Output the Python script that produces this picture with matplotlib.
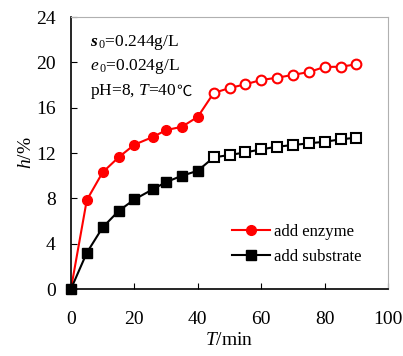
import matplotlib
matplotlib.use("Agg")
import matplotlib.pyplot as plt
from matplotlib.lines import Line2D

plt.rcParams['font.family'] = ['Liberation Serif', 'Noto Sans CJK SC']
plt.rcParams['mathtext.fontset'] = 'custom'
plt.rcParams['mathtext.rm'] = 'Liberation Serif'
plt.rcParams['mathtext.it'] = 'Liberation Serif:italic'
plt.rcParams['mathtext.bf'] = 'Liberation Serif:bold'
plt.rcParams['mathtext.bfit'] = 'Liberation Serif:italic:bold'

# time points (min)
t = [0, 5, 10, 15, 20, 26, 30, 35, 40, 45, 50, 55, 60, 65, 70, 75, 80, 85, 90]
# conversion h (%)
enzyme = [0, 7.85, 10.3, 11.62, 12.74, 13.44, 14.03, 14.32, 15.2,
          17.3, 17.74, 18.07, 18.45, 18.65, 18.9, 19.15, 19.6, 19.62, 19.83]
substrate = [0, 3.2, 5.44, 6.88, 7.91, 8.83, 9.44, 10.0, 10.44,
             11.62, 11.83, 12.06, 12.33, 12.56, 12.71, 12.86, 13.0, 13.21, 13.36]
n_fill = 9  # first 9 points filled, rest open

fig = plt.figure(figsize=(4.03, 3.56), dpi=100)
ax = fig.add_axes([0.176, 0.188, 0.787, 0.764])

ax.plot(t, enzyme, color='red', lw=1.5, zorder=2)
ax.plot(t[:n_fill], enzyme[:n_fill], 'o', color='red', ms=7, zorder=3, clip_on=False)
ax.plot(t[n_fill:], enzyme[n_fill:], 'o', mfc='white', mec='red', mew=1.5, ms=7, zorder=3)

ax.plot(t, substrate, color='black', lw=1.5, zorder=2)
ax.plot(t[:n_fill], substrate[:n_fill], 's', color='black', ms=7, zorder=3, clip_on=False)
ax.plot(t[n_fill:], substrate[n_fill:], 's', mfc='white', mec='black', mew=1.5, ms=6.5, zorder=3)

h1 = Line2D([], [], color='red', lw=1.5, marker='o', ms=7)
h2 = Line2D([], [], color='black', lw=1.5, marker='s', ms=7)
ax.legend([h1, h2], ['add enzyme', 'add substrate'], frameon=False, fontsize=12,
          loc='center left', bbox_to_anchor=(0.508, 0.164), borderaxespad=0,
          borderpad=0, handlelength=2.3, handletextpad=0.2, labelspacing=0.5)

ax.set_xlim(0, 100)
ax.set_ylim(0, 24)
ax.set_xticks(range(0, 101, 20))
ax.set_yticks(range(0, 25, 4))
ax.tick_params(direction='in', length=4, labelsize=14, top=False, right=False)
ax.tick_params(axis='x', pad=16)
ax.tick_params(axis='y', pad=11)
for s in ['top', 'right']:
    ax.spines[s].set_color('#b0b0b0')
ax.spines['left'].set_linewidth(1.2)
ax.spines['bottom'].set_linewidth(1.2)

ax.set_xlabel('$T$/min', fontsize=14, labelpad=3)
ax.set_ylabel('$h$/%', fontsize=14, labelpad=1)

ax.text(0.06, 0.895, r'$\mathbfit{s}_{\,0}$=0.244g/L', transform=ax.transAxes, fontsize=12.5)
ax.text(0.06, 0.805, r'$e_{\,0}$=0.024g/L', transform=ax.transAxes, fontsize=12.5)
ph = ax.text(0.06, 0.715, 'pH=8, $T$=40', transform=ax.transAxes, fontsize=12.5)
ax.annotate('\u2103', xy=(1, 0.05), xycoords=ph, va='bottom', ha='left',
            fontsize=11, family=['Noto Sans CJK SC'])

fig.savefig('out.png', dpi=100)
